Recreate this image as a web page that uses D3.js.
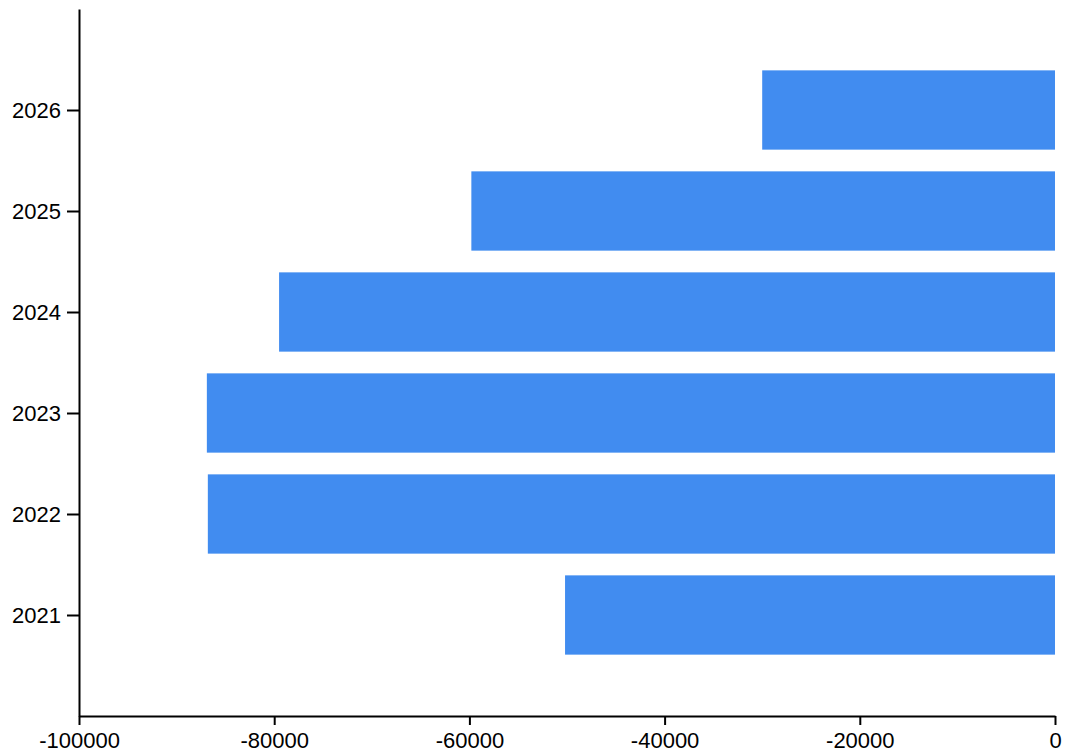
<!DOCTYPE html>
<html>
<head>
<meta charset="utf-8">
<script src="https://cdn.jsdelivr.net/npm/d3@7"></script>
<style>
  body { margin: 0; background: #fff; }
  .axis text { font-family: "Liberation Sans", Arial, sans-serif; font-size: 22px; fill: #000; }
  .axis path, .axis line { stroke: #000; stroke-width: 2px; }
</style>
</head>
<body>
<div id="chart"></div>
<script>
var years = ["2021", "2022", "2023", "2024", "2025", "2026"];
var values = [-50200, -86800, -86900, -79500, -59800, -30000];
var xTicks = [-100000, -80000, -60000, -40000, -20000, 0];

var margin = {top: 9, right: 12, bottom: 39, left: 79},
    width = 1067 - margin.left - margin.right,
    height = 755 - margin.top - margin.bottom;

var svg = d3.select("#chart").append("svg")
    .attr("width", 1067)
    .attr("height", 755)
  .append("g")
    .attr("transform", "translate(" + margin.left + "," + margin.top + ")");

var x = d3.scaleLinear()
    .domain([-100000, 0])
    .range([0, 976]);

var y = d3.scalePoint()
    .domain(years)
    .range([height, 0])
    .padding(1);

var barH = y.step() * 0.785;

// bars
svg.selectAll(".bar")
    .data(years)
  .enter().append("rect")
    .attr("class", "bar")
    .attr("x", function(d, i) { return x(values[i]); })
    .attr("width", function(d, i) { return x(0) - x(values[i]); })
    .attr("y", function(d) { return y(d) - barH / 2; })
    .attr("height", barH)
    .style("fill", "#418cf0");

// x axis (plain hyphen for the minus sign)
var xAxis = svg.append("g")
    .attr("class", "axis")
    .attr("transform", "translate(0," + height + ")")
    .call(d3.axisBottom(x).tickValues(xTicks).tickFormat(function(d) { return String(d); }).tickSize(9).tickSizeOuter(0));
xAxis.selectAll("text").attr("dy", "0.95em").attr("y", 11);

// y axis
var yAxis = svg.append("g")
    .attr("class", "axis")
    .call(d3.axisLeft(y).tickSize(12).tickSizeOuter(0));
yAxis.selectAll("text").attr("x", -18);
</script>
</body>
</html>
